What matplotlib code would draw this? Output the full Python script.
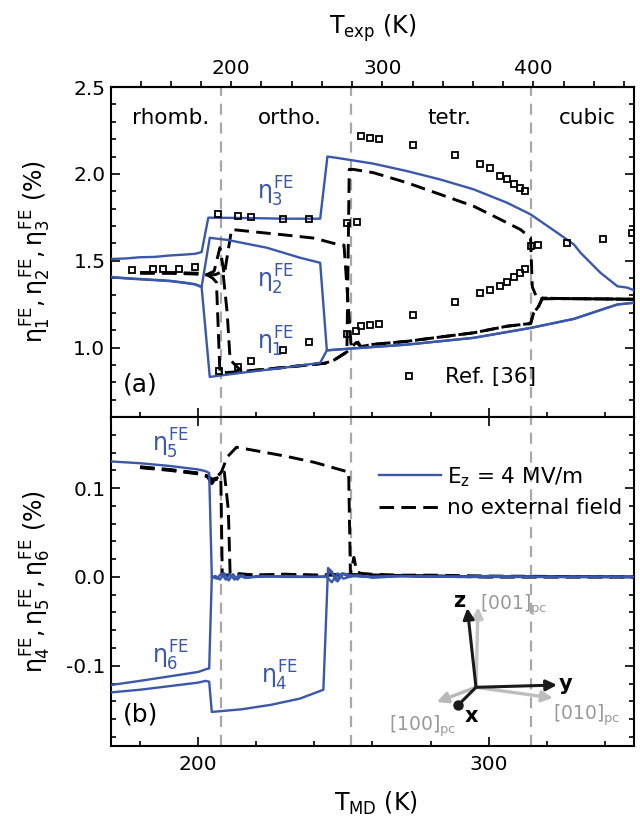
import matplotlib
matplotlib.use('Agg')
import matplotlib.pyplot as plt
from matplotlib.ticker import MultipleLocator, FixedLocator, FormatStrFormatter

plt.rcParams['font.family'] = ['DejaVu Sans']
plt.rcParams['mathtext.fontset'] = 'custom'
plt.rcParams['mathtext.rm'] = 'DejaVu Sans'
plt.rcParams['mathtext.it'] = 'DejaVu Sans'
plt.rcParams['mathtext.bf'] = 'DejaVu Sans:bold'
plt.rcParams['axes.unicode_minus'] = False

BLUE = '#3a57aa'
GREY = '#a8a8a8'

# phase boundaries on the T_MD scale
t_bounds = [208.0, 252.5, 314.5]
phase_names = ['rhomb.', 'ortho.', 'tetr.', 'cubic']
phase_t = [190.5, 231.6, 286.3, 334.0]

# top axis ticks (T_exp)
exp_major = [200, 300, 400]
exp_minor = [140, 160, 180, 220, 240, 260, 280, 320, 340, 360, 380, 420, 440, 460]

# ---- panel (a), E_z = 4 MV/m
t_e3 = [170, 175, 180, 185, 190, 195, 199, 201.2, 203.5, 210, 220, 230, 242.0, 244.5, 249.0,
        260.3, 271.9, 283.3, 294.8, 306.3, 314.4, 323.6, 329.3, 331.6, 338.5, 344.3, 347.7, 350]
e3 = [1.51, 1.513, 1.52, 1.522, 1.53, 1.535, 1.54, 1.55, 1.748, 1.747, 1.745, 1.742, 1.742, 2.10, 2.089,
      2.059, 2.016, 1.968, 1.911, 1.834, 1.767, 1.661, 1.594, 1.546, 1.43, 1.353, 1.345, 1.33]

t_e2 = [170, 175, 180, 185, 190, 195, 199, 201.2, 204.0, 210, 223.6, 235.1, 242.0, 244.3, 248.9,
        255.8, 271.9, 294.8, 314.4, 329.3, 340.8, 344.3, 350]
e2 = [1.407, 1.40, 1.395, 1.39, 1.385, 1.375, 1.365, 1.35, 1.632, 1.62, 1.575, 1.517, 1.488, 0.984, 0.99,
      0.998, 1.017, 1.056, 1.113, 1.165, 1.229, 1.248, 1.258]

t_e1 = [170, 175, 180, 185, 190, 195, 199, 201.2, 204.0, 215, 230, 242.0, 244.3, 248.9,
        255.8, 271.9, 294.8, 314.4, 329.3, 340.8, 344.3, 350]
e1 = [1.405, 1.398, 1.393, 1.388, 1.383, 1.373, 1.363, 1.348, 0.831, 0.855, 0.885, 0.912, 0.984, 0.99,
      0.998, 1.017, 1.056, 1.113, 1.165, 1.229, 1.248, 1.258]

# ---- panel (a), no external field
t_n1 = [180, 190, 200, 203, 205.5, 207.5, 209, 211.5, 220, 230, 240, 246.6, 250.2, 252.6, 254.5, 256,
        260, 271.9, 283, 294.8, 306.3, 312.5, 314.4, 315.5, 317.2, 318.5, 325, 340, 350]
n1 = [1.43, 1.43, 1.425, 1.42, 1.44, 1.575, 1.42, 1.68, 1.665, 1.648, 1.63, 1.60, 1.59, 1.02, 1.045, 1.005,
      1.018, 1.036, 1.06, 1.085, 1.123, 1.135, 1.138, 1.2, 1.238, 1.285, 1.282, 1.28, 1.278]

t_n2 = [180, 190, 200, 203, 205, 206.3, 207.5, 215, 225, 235, 243.7, 247, 251.2, 252.0, 253.4,
        260.3, 271.9, 283.3, 294.8, 304, 310.9, 314.4, 315.0, 316.7, 325, 340, 350]
n2 = [1.432, 1.432, 1.428, 1.42, 1.40, 1.375, 0.854, 0.862, 0.878, 0.895, 0.91, 0.93, 0.975, 2.026, 2.026,
      2.007, 1.949, 1.882, 1.814, 1.738, 1.68, 1.632, 1.35, 1.28, 1.282, 1.28, 1.278]

t_n3 = [180, 190, 200, 203, 206, 208.5, 210, 211, 215, 225, 235, 243.7, 247, 251.2, 252.6, 254.5, 256,
        260, 271.9, 283, 294.8, 306.3, 312.5, 314.4, 315.5, 317.2, 318.5, 325, 340, 350]
n3 = [1.428, 1.428, 1.423, 1.418, 1.42, 1.44, 1.2, 0.93, 0.862, 0.878, 0.895, 0.91, 0.93, 0.975, 1.0, 1.03,
      1.005, 1.018, 1.036, 1.06, 1.085, 1.123, 1.135, 1.138, 1.2, 1.238, 1.285, 1.282, 1.28, 1.278]

# ---- panel (a), experiment (Ref. [36])
ref_t = [177.2, 184.5, 187.9, 193.3, 198.9,
         206.9, 213.6, 218.2, 229.3, 238.3,
         207.1, 213.6, 218.2, 229.3, 238.3,
         251.2, 254.8,
         256.0, 259.2, 262.3, 273.8, 288.5, 297.1, 300.6, 304.0, 306.3, 308.6, 310.6, 312.4,
         251.2, 254.4, 256.0, 259.2, 262.3, 273.8, 288.5, 297.1, 300.6, 304.0, 306.3, 308.6, 310.6, 312.4,
         314.4, 317.0, 327.0, 339.3, 349.4]
ref_eta = [1.444, 1.45, 1.453, 1.455, 1.465,
           1.767, 1.757, 1.753, 1.743, 1.738,
           0.863, 0.889, 0.921, 0.984, 1.031,
           1.718, 1.722,
           2.218, 2.205, 2.199, 2.164, 2.108, 2.059, 2.032, 1.987, 1.968, 1.939, 1.920, 1.901,
           1.079, 1.098, 1.123, 1.129, 1.138, 1.19, 1.261, 1.315, 1.33, 1.353, 1.379, 1.407, 1.427, 1.455,
           1.584, 1.588, 1.603, 1.628, 1.657]

# ---- panel (b), E_z = 4 MV/m
t_e5 = [170, 180, 190, 200, 202.6, 203.8, 204.7, 206, 207.5, 209, 210.5, 212, 213.5, 215, 217, 220,
        230, 240, 244.3, 245.5, 247.5, 249.5, 252, 255, 260, 270, 280, 300, 320, 350]
e5 = [0.130, 0.128, 0.125, 0.121, 0.119, 0.117, 0.0, 0.001, -0.003, 0.004, -0.004, 0.003, -0.003, 0.002,
      -0.001, 0.001, 0.0, 0.0, 0.001, 0.007, -0.004, 0.004, 0.0, 0.002, -0.001, 0.001, 0.0, 0.001, 0.0, 0.0]

t_e6 = [170, 180, 190, 200, 202.6, 203.8, 204.7, 206.5, 208, 209.5, 211, 212.5, 214, 216, 220, 230, 240,
        244.3, 246, 248, 250, 253, 258, 270, 290, 320, 350]
e6 = [-0.1217, -0.117, -0.112, -0.107, -0.104, -0.103, 0.0, -0.002, 0.004, -0.003, 0.003, -0.003, 0.002,
      -0.001, 0.0, 0.001, 0.0, 0.0, -0.006, 0.004, -0.002, 0.001, 0.0, 0.001, 0.0, 0.0, 0.0]

t_e4 = [170, 180, 190, 200, 202.6, 203.8, 204.7, 215, 225, 235, 243.1, 244.7, 246, 248, 250, 252, 255,
        260, 270, 290, 320, 350]
e4 = [-0.130, -0.127, -0.123, -0.119, -0.117, -0.118, -0.152, -0.149, -0.144, -0.137, -0.127, 0.010, 0.006,
      -0.005, 0.004, 0.002, 0.001, 0.0, 0.001, 0.0, 0.0, 0.0]

# ---- panel (b), no external field
t_n4 = [180, 190, 200, 203, 204.7, 206.5, 208, 210, 213.2, 220, 230, 240, 251.8, 252.4, 253.6, 254.6,
        256, 260, 270, 280, 300, 350]
n4 = [0.124, 0.121, 0.117, 0.114, 0.105, 0.113, 0.118, 0.135, 0.146, 0.142, 0.136, 0.129, 0.118, 0.003,
      0.022, 0.006, 0.004, 0.003, 0.002, 0.002, 0.001, 0.0]

t_n5 = [180, 190, 200, 203, 204.7, 206.5, 207.8, 208.3, 210, 213, 220, 230, 240, 250, 260, 280, 300, 350]
n5 = [0.123, 0.12, 0.116, 0.113, 0.108, 0.11, 0.112, 0.003, 0.002, 0.004, 0.002, 0.003, 0.002, 0.002,
      0.002, 0.001, 0.0, 0.0]

t_n6 = [180, 190, 200, 203, 205, 207, 209, 210.4, 211, 214, 220, 230, 240, 250, 260, 280, 300, 350]
n6 = [0.1235, 0.1205, 0.1165, 0.1135, 0.11, 0.112, 0.118, 0.075, 0.004, 0.003, 0.002, 0.003, 0.002,
      0.003, 0.002, 0.001, 0.0, 0.0]


def md2exp(t):
    return 200.0 + (t - 211.4) / 0.52


def exp2md(t):
    return 211.4 + (t - 200.0) * 0.52


def style_axes(ax):
    ax.set_xlim(170, 350)
    ax.xaxis.set_major_locator(MultipleLocator(100))
    ax.xaxis.set_minor_locator(MultipleLocator(20))
    ax.tick_params(which='both', direction='in', right=True, width=1.2, labelsize=14.5)
    ax.tick_params(which='major', length=6.5, pad=7)
    ax.tick_params(which='minor', length=3.6)
    ax.tick_params(axis='y', which='major', pad=4)
    for s in ax.spines.values():
        s.set_linewidth(1.5)
    for tb in t_bounds:
        ax.axvline(tb, color=GREY, lw=1.6, ls=(0, (5, 3.5)), zorder=1)


fig = plt.figure(figsize=(6.4, 8.19), dpi=100)
ax1 = fig.add_axes([0.1734, 0.4908, 0.8172, 0.4029])
ax2 = fig.add_axes([0.1734, 0.0895, 0.8172, 0.4013])

dash = (0, (5, 2.5))

# (a)
style_axes(ax1)
ax1.tick_params(top=False, labelbottom=False)
ax1.set_ylim(0.6, 2.5)
ax1.yaxis.set_major_locator(MultipleLocator(0.5))
ax1.yaxis.set_minor_locator(MultipleLocator(0.1))
ax1.yaxis.set_major_formatter(FormatStrFormatter('%.1f'))

for tt, vv in [(t_n1, n1), (t_n2, n2), (t_n3, n3)]:
    ax1.plot(tt, vv, color='black', lw=2.1, ls=dash, zorder=3)
for tt, vv in [(t_e1, e1), (t_e2, e2), (t_e3, e3)]:
    ax1.plot(tt, vv, color=BLUE, lw=1.7, zorder=4)
ax1.plot(ref_t, ref_eta, ls='none', marker='s', ms=5, mfc='none', mec='black', mew=1.3,
         zorder=5, label='Ref. [36]')

for name, tp in zip(phase_names, phase_t):
    ax1.text(tp, 2.285, name, ha='center', va='baseline', fontsize=15.5)

ax1.text(220.2, 1.853, r'$\eta_3^{\rm FE}$', color=BLUE, fontsize=17, va='baseline')
ax1.text(220.2, 1.346, r'$\eta_2^{\rm FE}$', color=BLUE, fontsize=17, va='baseline')
ax1.text(220.2, 0.99, r'$\eta_1^{\rm FE}$', color=BLUE, fontsize=17, va='baseline')
ax1.text(174.1, 0.746, '(a)', fontsize=18, va='baseline')

ax1.legend(loc='center left', bbox_to_anchor=(0.549, 0.121), frameon=False, fontsize=15.5,
           handlelength=1.0, handletextpad=1.2, borderpad=0, borderaxespad=0)

ax1.set_ylabel(r'$\eta_1^{\rm FE}, \eta_2^{\rm FE}, \eta_3^{\rm FE}$ (%)', fontsize=17)
ax1.yaxis.set_label_coords(-0.111, 0.5)

ax_top = ax1.secondary_xaxis('top', functions=(md2exp, exp2md))
ax_top.xaxis.set_major_locator(FixedLocator(exp_major))
ax_top.xaxis.set_minor_locator(FixedLocator(exp_minor))
ax_top.tick_params(which='both', direction='out', width=1.2, length=4.5, labelsize=14.5, pad=2)
ax_top.spines['top'].set_linewidth(1.5)
ax_top.set_xlabel(r'T$_{\rm exp}$ (K)', fontsize=17, labelpad=18)

# (b)
style_axes(ax2)
ax2.tick_params(top=True)
ax2.set_ylim(-0.19, 0.18)
ax2.yaxis.set_major_locator(MultipleLocator(0.1))
ax2.yaxis.set_minor_locator(MultipleLocator(0.02))
ax2.yaxis.set_major_formatter(FormatStrFormatter('%.1f'))

for tt, vv in [(t_n4, n4), (t_n5, n5), (t_n6, n6)]:
    ax2.plot(tt, vv, color='black', lw=2.1, ls=dash, zorder=3)
line_e, = ax2.plot(t_e5, e5, color=BLUE, lw=1.7, zorder=4, label=r'E$_{\rm z}$ = 4 MV/m')
ax2.plot(t_e6, e6, color=BLUE, lw=1.7, zorder=4)
ax2.plot(t_e4, e4, color=BLUE, lw=1.7, zorder=4)
line_n, = ax2.plot([], [], color='black', lw=2.1, ls=dash, label='no external field')

ax2.legend(handles=[line_e, line_n], loc='center left', bbox_to_anchor=(0.512, 0.773), frameon=False,
           fontsize=15.5, handlelength=2.9, handletextpad=0.25, labelspacing=0.45,
           borderpad=0, borderaxespad=0)

ax2.text(184.0, 0.141, r'$\eta_5^{\rm FE}$', color=BLUE, fontsize=17, va='baseline')
ax2.text(184.0, -0.098, r'$\eta_6^{\rm FE}$', color=BLUE, fontsize=17, va='baseline')
ax2.text(221.6, -0.1206, r'$\eta_4^{\rm FE}$', color=BLUE, fontsize=17, va='baseline')
ax2.text(174.1, -0.163, '(b)', fontsize=18, va='baseline')

ax2.set_ylabel(r'$\eta_4^{\rm FE}, \eta_5^{\rm FE}, \eta_6^{\rm FE}$ (%)', fontsize=17)
ax2.yaxis.set_label_coords(-0.111, 0.5)
ax2.set_xlabel(r'T$_{\rm MD}$ (K)', fontsize=17)
ax2.xaxis.set_label_coords(0.507, -0.135)


# coordinate-system sketch (pixel positions of the reference)
def fpos(x, y):
    return (x / 640.0, 1.0 - y / 819.0)


origin = fpos(476, 687.3)
for tip, col in [((478, 607), '#c4c4c4'), ((553, 698), '#bdbdbd'), ((436.7, 702), '#b8b8b8')]:
    ax2.annotate('', xy=fpos(*tip), xycoords='figure fraction', xytext=origin,
                 textcoords='figure fraction',
                 arrowprops=dict(arrowstyle='-|>', lw=2.4, color=col, mutation_scale=16,
                                 shrinkA=0, shrinkB=0))
for tip in [(467.3, 608), (557, 685)]:
    ax2.annotate('', xy=fpos(*tip), xycoords='figure fraction', xytext=origin,
                 textcoords='figure fraction',
                 arrowprops=dict(arrowstyle='-|>', lw=2.2, color='#1a1a1a', mutation_scale=16,
                                 shrinkA=0, shrinkB=0))
xend = fpos(458.3, 705)
ax2.plot([origin[0], xend[0]], [origin[1], xend[1]], color='#1a1a1a', lw=2.2,
         transform=fig.transFigure, clip_on=False, zorder=6)
ax2.plot([xend[0]], [xend[1]], marker='o', ms=6.5, color='#1a1a1a',
         transform=fig.transFigure, clip_on=False, zorder=6)

fig.text(*fpos(459, 601), 'z', fontsize=15, fontweight='bold', ha='center', va='center')
fig.text(*fpos(566, 684), 'y', fontsize=15, fontweight='bold', ha='center', va='center')
fig.text(*fpos(471, 716), 'x', fontsize=15, fontweight='bold', ha='center', va='center')
fig.text(*fpos(480, 610), r'[001]$_{\rm pc}$', fontsize=13.5, color='#999999', va='baseline')
fig.text(*fpos(553, 720), r'[010]$_{\rm pc}$', fontsize=13.5, color='#999999', va='baseline')
fig.text(*fpos(389, 731), r'[100]$_{\rm pc}$', fontsize=13.5, color='#999999', va='baseline')

fig.savefig('out.png', dpi=100)
